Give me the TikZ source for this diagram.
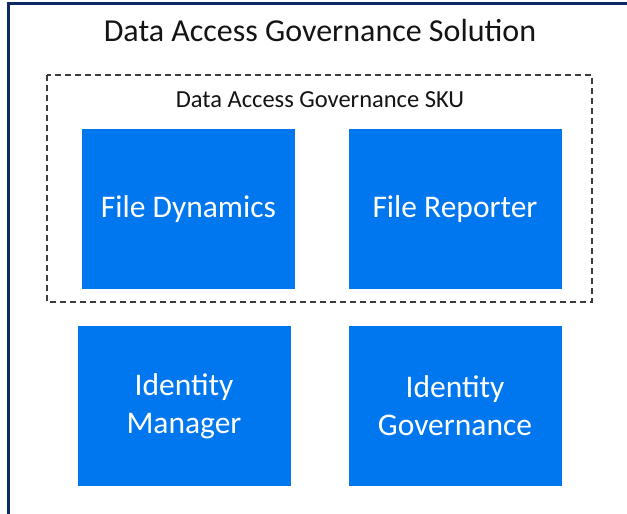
\documentclass[tikz,border=0pt]{standalone}
\usepackage{fontspec}
\setmainfont{Carlito}
\definecolor{framenavy}{RGB}{14,40,102}
\definecolor{boxblue}{RGB}{0,119,238}
\definecolor{dashgray}{RGB}{60,60,60}
\definecolor{txtdark}{RGB}{20,20,20}
\begin{document}
\begin{tikzpicture}[x=1pt,y=-1pt,
  bluebox/.style={fill=boxblue, draw=none, minimum width=213pt, minimum height=160pt,
    text=white, font=\fontsize{31.5}{38}\selectfont, align=center, inner sep=0pt},
  skubox/.style={draw=dashgray, line width=1.6pt, dash pattern=on 6pt off 4pt},
  frameline/.style={draw=framenavy, line width=3pt}]
\useasboundingbox (0,0) rectangle (627,514);
\clip (0,0) rectangle (627,514);
\fill[white] (0,0) rectangle (627,514);
\draw[frameline] (8.5,530) -- (8.5,3.5) -- (640,3.5);
\node[text=txtdark, font=\fontsize{32}{38}\selectfont] (title) at (320,31) {Data Access Governance Solution};
\draw[skubox] (47,75) rectangle (592,302);
\node[text=txtdark, font=\fontsize{24.5}{29}\selectfont] (skulabel) at (320,100) {Data Access Governance SKU};
\node[bluebox] (fd) at (188.5,209) {File Dynamics};
\node[bluebox] (fr) at (455,209) {File Reporter};
\node[bluebox] (im) at (184,406) {Identity\\Manager};
\node[bluebox] (ig) at (455,406) {Identity\\Governance};
\end{tikzpicture}
\end{document}
